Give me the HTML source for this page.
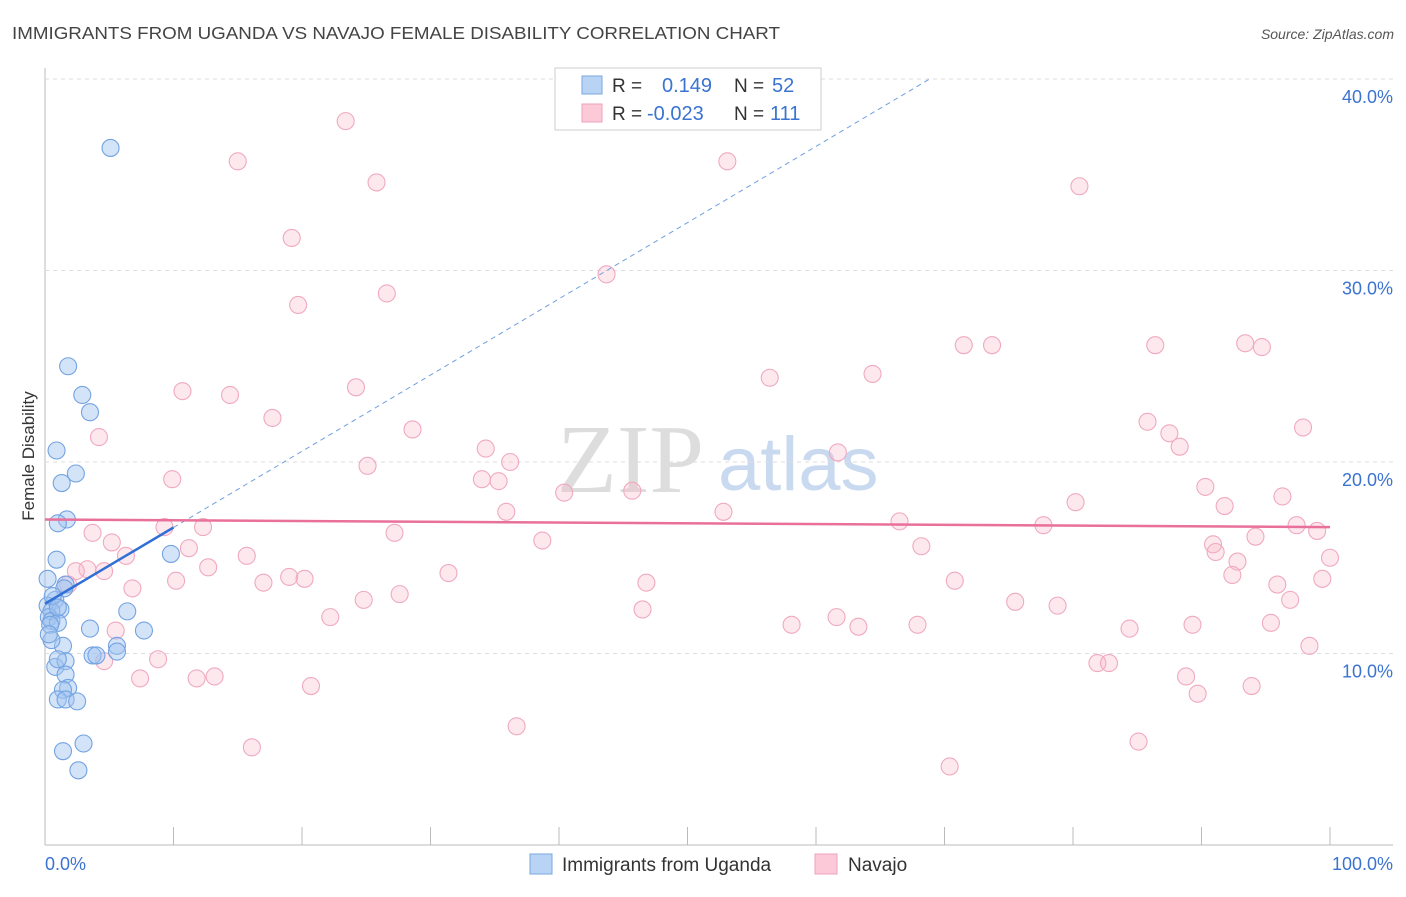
<!DOCTYPE html>
<html><head><meta charset="utf-8"><style>
body{margin:0;background:#fff;font-family:"Liberation Sans",sans-serif}
</style></head><body>
<svg id="c" width="1406" height="892" xmlns="http://www.w3.org/2000/svg" font-family="Liberation Sans, sans-serif">
<text x="12" y="39" font-size="17.5" fill="#444" textLength="768" lengthAdjust="spacingAndGlyphs">IMMIGRANTS FROM UGANDA VS NAVAJO FEMALE DISABILITY CORRELATION CHART</text>
<text x="1394" y="39" font-size="14" fill="#555" font-style="italic" text-anchor="end">Source: ZipAtlas.com</text>
<text x="557" y="492" font-size="98" fill="#ddd" font-family="Liberation Serif, serif">ZIP</text>
<text x="718" y="490" font-size="76" fill="#c9daf0">atlas</text>
<text transform="translate(34,456) rotate(-90)" font-size="17" fill="#333" text-anchor="middle">Female Disability</text>
<g id="grid"></g><g id="pts"></g><g id="lines"></g>
<g>
<rect x="555" y="68" width="266" height="62" fill="#fff" stroke="#ccc"/>
<rect x="582" y="76" width="20" height="18" fill="#b9d3f5" stroke="#7aa7e0"/>
<rect x="582" y="104" width="20" height="18" fill="#fbc9d8" stroke="#eea3bb"/>
<text x="612" y="92" font-size="19" fill="#333">R =</text><text x="662" y="92" font-size="20" fill="#3a73d1">0.149</text>
<text x="734" y="92" font-size="19" fill="#333">N =</text><text x="772" y="92" font-size="20" fill="#3a73d1">52</text>
<text x="612" y="120" font-size="19" fill="#333">R =</text><text x="647" y="120" font-size="20" fill="#3a73d1">-0.023</text>
<text x="734" y="120" font-size="19" fill="#333">N =</text><text x="770" y="120" font-size="20" fill="#3a73d1">111</text>
</g>
<g>
<rect x="530" y="854" width="22" height="20" fill="#b9d3f5" stroke="#7aa7e0"/>
<text x="562" y="871" font-size="19" fill="#333">Immigrants from Uganda</text>
<rect x="815" y="854" width="22" height="20" fill="#fbc9d8" stroke="#eea3bb"/>
<text x="848" y="871" font-size="19" fill="#333">Navajo</text>
</g>
</svg>
<script>
const yTicks=[10,20,30,40];
const xTickLabels=["0.0%","100.0%"];
const blueX=[5.1,1.8,2.9,3.5,0.9,2.4,1.3,1.7,1.0,0.9,0.2,1.6,1.5,0.8,0.2,1.2,0.5,0.3,0.5,1.0,0.4,6.4,3.5,7.7,1.4,0.5,9.8,5.6,0.8,1.6,1.0,1.6,5.6,3.7,4.0,1.8,1.4,1.0,1.6,2.5,3.0,1.4,2.6,0.3,0.6,1.0];
const blueY=[36.4,25.0,23.5,22.6,20.6,19.4,18.9,17.0,16.8,14.9,13.9,13.6,13.4,12.8,12.5,12.3,12.2,11.9,11.7,11.6,11.5,12.2,11.3,11.2,10.4,10.7,15.2,10.4,9.3,9.6,9.7,8.9,10.1,9.9,9.9,8.2,8.1,7.6,7.6,7.5,5.3,4.9,3.9,11.0,13.0,12.4];
const pinkX=[23.4,15.0,53.1,25.8,80.5,19.2,43.7,26.6,19.7,71.5,73.7,86.4,93.4,94.7,64.4,56.4,24.2,10.7,14.4,17.7,85.8,28.6,4.2,97.9,87.5,88.3,34.3,61.7,36.2,25.1,9.9,34.0,35.3,40.4,45.7,90.3,96.3,80.2,91.8,35.9,52.8,66.5,77.7,97.4,9.3,12.3,3.7,27.2,38.7,5.2,94.2,68.2,90.9,11.2,6.3,15.7,91.1,100,99.0,92.8,12.7,3.3,4.6,2.4,31.4,19.0,20.2,92.4,10.2,17.0,1.8,46.8,70.8,95.9,99.4,6.8,27.6,75.5,24.8,78.8,96.9,46.5,22.2,61.6,95.4,58.1,63.3,67.9,84.4,89.3,5.5,98.4,8.8,4.6,81.9,82.8,7.4,11.8,13.2,20.7,88.8,93.9,89.7,36.7,85.1,16.1,70.4];
const pinkY=[37.8,35.7,35.7,34.6,34.4,31.7,29.8,28.8,28.2,26.1,26.1,26.1,26.2,26.0,24.6,24.4,23.9,23.7,23.5,22.3,22.1,21.7,21.3,21.8,21.5,20.8,20.7,20.5,20.0,19.8,19.1,19.1,19.0,18.4,18.5,18.7,18.2,17.9,17.7,17.4,17.4,16.9,16.7,16.7,16.6,16.6,16.3,16.3,15.9,15.8,16.1,15.6,15.7,15.5,15.1,15.1,15.3,15.0,16.4,14.8,14.5,14.4,14.3,14.3,14.2,14.0,13.9,14.1,13.8,13.7,13.6,13.7,13.8,13.6,13.9,13.4,13.1,12.7,12.8,12.5,12.8,12.3,11.9,11.9,11.6,11.5,11.4,11.5,11.3,11.5,11.2,10.4,9.7,9.6,9.5,9.5,8.7,8.7,8.8,8.3,8.8,8.3,7.9,6.2,5.4,5.1,4.1];
const blueFit=[12.6,0.398];
const pinkFit=[17.0,-0.004];
const NS="http://www.w3.org/2000/svg";
const X=v=>45+v*12.85, Y=v=>845-v*19.15;
function mk(t,a,p){const e=document.createElementNS(NS,t);for(const k in a)e.setAttribute(k,a[k]);document.getElementById(p).appendChild(e);return e;}
let g;
g=mk('line',{x1:45,y1:68,x2:45,y2:845,stroke:'#bbb'},'grid');


g=mk('line',{x1:45,y1:845,x2:1393,y2:845,stroke:'#bbb'},'grid');


yTicks.forEach(t=>{
 g=mk('line',{x1:45,y1:Y(t),x2:1393,y2:Y(t),stroke:'#ddd','stroke-dasharray':'4,4'},'grid');
 
 
 g=mk('text',{x:1393,y:Y(t)+24,'font-size':18,fill:'#3a73d1','text-anchor':'end'},'grid');
 g.textContent=t.toFixed(1)+'%';
 
 
});
for(let i=0;i<=10;i++){
 g=mk('line',{x1:X(i*10),y1:827,x2:X(i*10),y2:845,stroke:'#bbb'},'grid');
 
 
}
g=mk('text',{x:45,y:870,'font-size':18,fill:'#3a73d1'},'grid');g.textContent=xTickLabels[0];


g=mk('text',{x:1393,y:870,'font-size':18,fill:'#3a73d1','text-anchor':'end'},'grid');g.textContent=xTickLabels[1];


pinkX.forEach((x,i)=>{
 g=mk('circle',{cx:X(x),cy:Y(pinkY[i]),r:8.5,fill:'rgba(248,180,200,0.3)',stroke:'#f0a9c0','stroke-width':1.1},'pts');
 
 
});
blueX.forEach((x,i)=>{
 g=mk('circle',{cx:X(x),cy:Y(blueY[i]),r:8.5,fill:'rgba(160,196,240,0.45)',stroke:'#74a3e2','stroke-width':1.1},'pts');
 
 
});
const bx2=(40-blueFit[0])/blueFit[1];
g=mk('line',{x1:X(10),y1:Y(blueFit[0]+blueFit[1]*10),x2:X(bx2),y2:Y(40),stroke:'#6f9fe0','stroke-width':1,'stroke-dasharray':'5,4'},'lines');


g=mk('line',{x1:X(0),y1:Y(blueFit[0]),x2:X(10),y2:Y(blueFit[0]+blueFit[1]*10),stroke:'#2f6fd6','stroke-width':2.5},'lines');


g=mk('line',{x1:X(0),y1:Y(pinkFit[0]),x2:X(100),y2:Y(pinkFit[0]+pinkFit[1]*100),stroke:'#e8709a','stroke-width':2.5},'lines');


</script>
</body></html>
